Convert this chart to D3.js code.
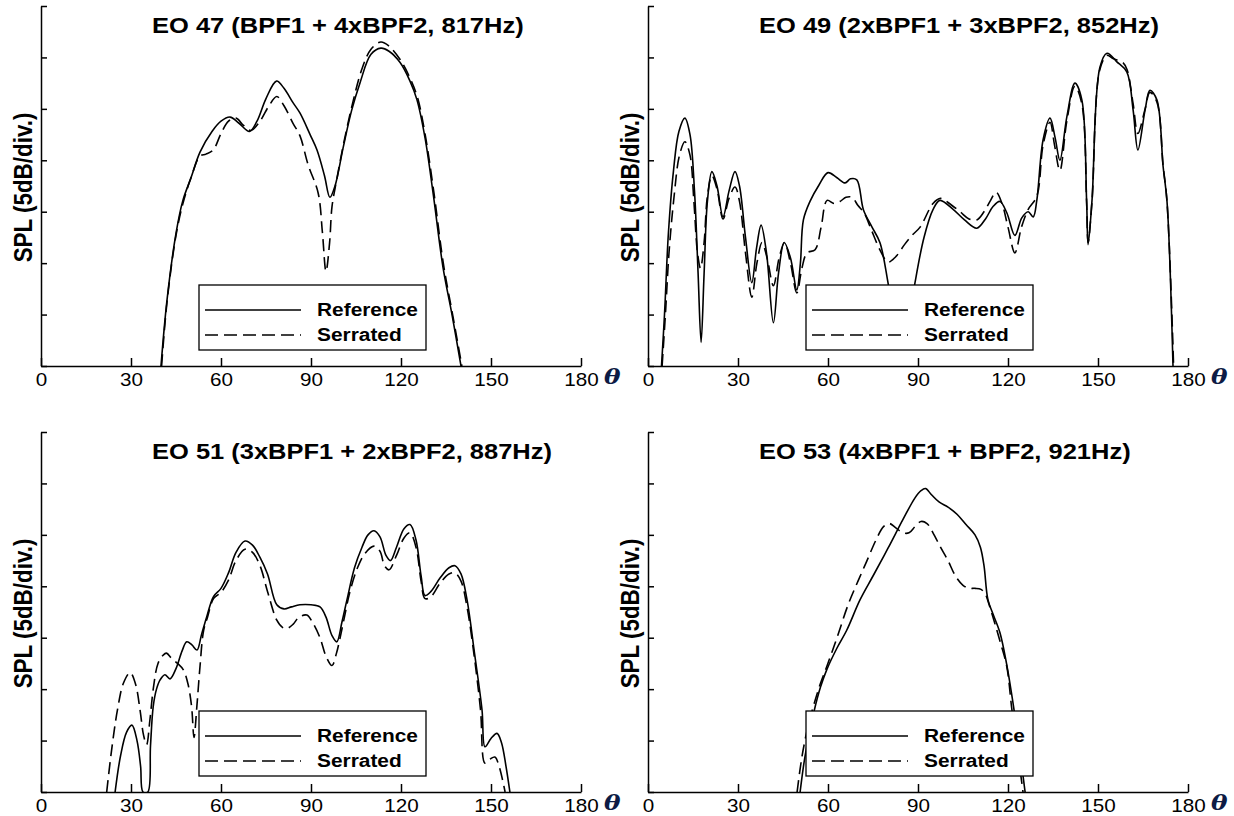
<!DOCTYPE html>
<head>
    <meta charset="utf-8">
    <title>EO directivity</title>
    <style>
        body { margin: 0; background: #fff; }
        svg { display: block; }
    </style>
</head>
<body>
    <script src="https://d3js.org/d3.v7.min.js"></script>
    <script>
        // data: [theta (deg), SPL (dB, 5 dB per division)]
        var thetaTicks = [0, 30, 60, 90, 120, 150, 180];
        var splTicks = [0, 5, 10, 15, 20, 25, 30, 35];
        var titles = [
            "EO 47 (BPF1 + 4xBPF2, 817Hz)",
            "EO 49 (2xBPF1 + 3xBPF2, 852Hz)",
            "EO 51 (3xBPF1 + 2xBPF2, 887Hz)",
            "EO 53 (4xBPF1 + BPF2, 921Hz)"
        ];
        var legendLabels = ["Reference", "Serrated"];

        var eo47Ref = [[40,0],[42,6.4],[45,12.9],[47.3,16.1],[50,18.3],[53,20.8],[57,22.8],[60,23.8],[63,24.2],[66,23.6],[69.5,22.8],
            [72,23.8],[75,26],[78.5,27.7],[81,27],[84,25.6],[86.3,24.6],[89.7,22.5],[92,21],[94.5,18.5],[96.3,16.4],[98,17.5],
            [100.7,21.2],[103.5,24.8],[106.3,27.5],[110,30.3],[113.3,30.9],[116,30.6],[119.7,29.5],[123,27.7],[125.3,25.9],
            [128,22.2],[130.7,16.8],[134,9.6],[137,5],[140,0]];
        var eo47Ser = [[40.2,0],[42,6.2],[45,12.7],[47.3,15.8],[50,18.3],[53,20.4],[55,20.6],[57.4,21],[60,22.6],[62.5,23.8],
            [65,24.1],[67.5,23.4],[70,22.9],[73,23.8],[76,25.3],[78.6,26.2],[81,25.3],[84,23.6],[86.3,22.4],[89,19.6],[92.4,16.8],
            [93.8,13],[95,9.2],[96.2,12],[97,15.5],[98.5,18],[101,21.8],[104,25.7],[107,28.9],[110,30.8],[113.3,31.5],[116,31.1],
            [119.7,29.8],[123,28],[125.5,26.1],[128,22.6],[130.9,17],[134.2,9.8],[137.2,5],[140.3,0]];

        var eo49Ref = [[4.5,0],[5.5,5],[6.8,12.9],[8.5,19],[10.3,22.8],[12.3,24.1],[14,22.5],[15.5,17],[16.7,9],[17.7,2.3],
            [18.7,9],[19.8,16],[21.3,18.9],[23,17.5],[25,14.5],[27,17],[29,18.9],[30.5,17.5],[32.5,12.5],[34.6,8.1],[36.2,11.5],
            [37.7,13.7],[39.5,11],[41.8,4.2],[43.5,9],[45.4,12],[47.5,10.5],[49.6,7.4],[50.8,10],[51.8,14.2],[54,16],[57,17.6],
            [60,18.8],[63,18.3],[65.7,17.8],[67.5,18.2],[69.6,18.1],[71.8,15.2],[74.5,13.6],[77.3,12],[80,8.1],[82,4.5],
            [84.5,3],[87,4.5],[89,8.1],[92,12.5],[95,15.2],[97.3,16.1],[101.8,15.2],[105.5,14.2],[109.6,13.4],[112.5,14.3],
            [115,15.5],[117.3,16],[119.6,14.9],[122.3,12.7],[124.6,14.4],[126.7,15],[128.4,14.5],[129.6,16.1],[131.7,22],
            [134,24.1],[135.7,22.2],[137.3,20],[139.6,24.2],[142.3,27.5],[144.6,25.9],[146.2,16.1],[146.7,11.8],[148,16.1],
            [150.6,29],[153,30.4],[156.2,29.6],[159.6,28.6],[161.7,24.9],[163.3,21],[165.7,24.9],[167.3,26.8],[169.6,25.9],
            [171.7,19.4],[173,16],[175,0]];
        var eo49Ser = [[4.7,0],[5.8,5],[7,11],[8.7,16.5],[10.5,20.5],[12.3,21.8],[14,20.5],[15.3,16],[16.5,11],[17.5,9.5],
            [18.7,12],[19.8,16.5],[21.3,18.5],[23,17.2],[25,14.3],[27,16.3],[29,17.4],[30.5,16],[32.5,11],[34.6,6.7],[36.3,10],
            [38,12],[39.7,10.5],[41.8,7.8],[43.7,10.5],[45.5,12],[47.5,10],[49.6,7.1],[51.3,9.5],[53,11],[55.7,11.3],[57.7,13.5],
            [59.7,16.1],[62,15.8],[64,16],[66,16.4],[68,16.4],[70,15.6],[72,14.9],[74.5,13.2],[77.3,11.3],[80,10.1],[82.5,10.6],
            [85.5,11.8],[88,12.7],[90.7,13.5],[95,15.8],[97.5,16.3],[100,15.9],[104,15],[107,14.3],[109.6,14.2],[112,15],
            [114,16],[116,16.9],[118,15.8],[120,13.5],[122.3,11],[124.5,13.5],[126.7,15.2],[129.6,16.5],[131.7,21.5],[134,23.7],
            [135.5,21.5],[137.3,19],[139.6,23.8],[142.3,27.2],[144.6,25.5],[146.2,16],[146.7,12],[148,16],[150.6,28.8],[153,30.2],
            [155,29.9],[156.7,29.7],[158.3,29.5],[159.7,28.8],[161.7,25.5],[163.3,22.6],[165.7,25],[167.3,26.6],[169.6,25.7],
            [171.7,19.5],[173,16],[175.2,0]];

        var eo51Ref = [[24.7,0],[26.5,3.5],[28.5,5.8],[30.3,6.5],[32,5],[33.2,2.5],[34,0],[35.6,0],[36.5,4.5],[37.4,8.3],
            [38.5,10],[39.7,10.9],[41.3,11.4],[43,11],[45,12],[47,13.7],[48.6,14.6],[50.3,14.3],[52,13.8],[53.5,15.3],[55.2,17],
            [57.5,19],[60,19.8],[62.5,21.3],[65,23.3],[68,24.4],[70.5,24],[73,22.8],[75.5,21.2],[78.6,18.2],[81,17.8],[83.5,18],
            [86.3,18.2],[90,18.2],[93,18],[95,17],[97,15.2],[98.6,14.6],[100.3,16.5],[102,18.7],[104.5,21.8],[107,23.8],[109,25],
            [111,25.4],[113,24.8],[115,23],[116.5,22.5],[118.5,23.8],[121,25.6],[123,26],[125,24.5],[126.7,21],[128,19.1],
            [130,19.5],[133,20.8],[136,21.8],[138,22],[140,21.2],[142,18.7],[144.5,13.5],[147,8],[148,4.4],[150,5.2],[152,5.7],
            [153.5,4.8],[155,2.5],[156.3,0]];
        var eo51Ser = [[21.9,0],[23.5,4],[25.5,8],[27.5,10.6],[29.7,11.6],[31.5,10.5],[33,8],[34.2,5.5],[35.2,4.6],[36.3,7],
            [37.5,10.2],[39,12.5],[40.7,13.3],[41.8,13.5],[43.5,13],[45.5,12.5],[47.4,11.9],[49,10.5],[50.2,8.3],[51,5.3],[52,8.5],
            [53,12.2],[54.2,15.7],[55.5,17],[57.5,18.8],[60,19.4],[62.5,20.6],[65,22.5],[68,23.6],[70.5,23.3],[73,22],[75.5,19.5],
            [78.6,16.7],[80.5,16],[82,15.9],[84,16.3],[86,17],[88.6,17.2],[90.5,16.5],[93,15],[95,13.2],[97,12.3],[98.5,13.5],
            [99.7,15],[101,16.8],[103,19.5],[105.5,21.8],[108,23.2],[111,23.9],[113,23.4],[114.5,22],[116,21.6],[118.5,23],
            [121,24.7],[123,25.2],[125,23.8],[126.7,20.5],[128,18.8],[130,19],[133,20.3],[136,21.2],[138,21.3],[140,20.5],
            [142,18],[144.5,13],[146.5,8],[148,2.8],[149.7,3.2],[151.3,3.4],[152.7,2.5],[154.7,0]];

        var eo53Ref = [[50.7,0],[52.3,3.4],[54,5.9],[55.4,7.9],[57.5,10.2],[59.6,11.9],[63,14],[66.2,15.7],[70.7,18.7],[75,21],
            [80,23.7],[85,26.5],[89,28.6],[91,29.3],[92.5,29.5],[94.5,28.9],[97,28.2],[100,27.7],[103,27],[106,26],[109,25],
            [110.8,23.8],[112,22],[113.3,18.7],[115,17.3],[117.3,15.5],[119.5,12.5],[121.7,8.6],[123.7,4.5],[125.7,0]];
        var eo53Ser = [[49.7,0],[51.3,3.4],[53.2,6.2],[55,8.2],[57.3,10.4],[59.6,12.2],[63,15],[66.7,18.2],[70,20.5],[73,22.5],
            [76,24.5],[78.5,25.8],[80.5,26.1],[82.5,25.7],[85,25.2],[87,25.2],[89,25.8],[91,26.3],[93,26.1],[95,25.2],[97.5,23.8],
            [100,22.5],[102.5,21],[105,20.1],[107,19.8],[109,19.8],[111,19.7],[112.5,19.2],[113.5,18.4],[115.5,16.5],[117.5,14.5],
            [119.6,12.2],[121.3,8],[123.2,4],[125,0]];

        var SX = 1.18; // the figure's text is stretched sideways
        var width = 540, height = 360;
        var panels = [
            { title: titles[0], ref: eo47Ref, ser: eo47Ser, left: 41, top: 6 },
            { title: titles[1], ref: eo49Ref, ser: eo49Ser, left: 648, top: 6 },
            { title: titles[2], ref: eo51Ref, ser: eo51Ser, left: 41, top: 432 },
            { title: titles[3], ref: eo53Ref, ser: eo53Ser, left: 648, top: 432 }
        ];

        var svg = d3.select("body").append("svg")
            .attr("width", 1234)
            .attr("height", 816);

        var x = d3.scaleLinear().domain([0, 180]).range([0, width]);
        var y = d3.scaleLinear().domain([0, 35]).range([height, 0]);

        var line = d3.line()
            .x(function (d) { return x(d[0]); })
            .y(function (d) { return y(d[1]); })
            .curve(d3.curveCatmullRom.alpha(0.5));

        svg.append("defs").append("clipPath")
            .attr("id", "plotclip")
            .append("rect")
            .attr("x", 0).attr("y", 0)
            .attr("width", width).attr("height", height);

        panels.forEach(function (p, i) {
            var g = svg.append("g")
                .attr("transform", "translate(" + p.left + "," + p.top + ")");

            g.append("path")
                .datum(p.ref)
                .attr("clip-path", "url(#plotclip)")
                .attr("fill", "none")
                .attr("stroke", "#000")
                .attr("stroke-width", 1.6)
                .attr("d", line);
            g.append("path")
                .datum(p.ser)
                .attr("clip-path", "url(#plotclip)")
                .attr("fill", "none")
                .attr("stroke", "#000")
                .attr("stroke-width", 1.6)
                .attr("stroke-dasharray", "12,6")
                .attr("d", line);

            // axes
            var xa = g.append("g")
                .attr("transform", "translate(0," + height + ")")
                .call(d3.axisBottom(x).tickValues(thetaTicks).tickSize(-8).tickSizeOuter(0).tickPadding(7.5));
            xa.selectAll("text")
                .attr("transform", "scale(" + SX + ",1)")
                .attr("fill", "#000")
                .style("font-family", "'Liberation Sans', Arial, sans-serif")
                .style("font-size", "17.5px");
            var ya = g.append("g")
                .call(d3.axisLeft(y).tickValues(splTicks).tickSize(-6).tickSizeOuter(0).tickFormat(""));
            g.selectAll(".domain, .tick line")
                .attr("stroke", "#000")
                .attr("stroke-width", 1.5);

            // theta symbol after the last tick
            g.append("text")
                .attr("transform", "translate(" + (width + 23) + "," + (height + 18) + ") scale(" + SX + ",1)")
                .style("font-family", "'DejaVu Serif', 'Liberation Serif', serif")
                .style("font-style", "italic")
                .style("font-weight", "bold")
                .style("font-size", "21px")
                .attr("fill", "#0d1b45")
                .text("θ");

            // title
            g.append("text")
                .attr("transform", "translate(111,27) scale(" + SX + ",1)")
                .style("font-family", "'Liberation Sans', Arial, sans-serif")
                .style("font-weight", "bold")
                .style("font-size", "21.6px")
                .text(p.title);

            // y label
            g.append("text")
                .attr("transform", "translate(-9.5,181.5) scale(" + SX + ",1) rotate(-90)")
                .style("text-anchor", "middle")
                .style("font-family", "'Liberation Sans', Arial, sans-serif")
                .style("font-weight", "bold")
                .style("font-size", "22.4px")
                .text("SPL (5dB/div.)");

            // legend
            var lg = g.append("g")
                .attr("transform", "translate(0," + height + ")");
            lg.append("rect")
                .attr("x", 158).attr("y", -81)
                .attr("width", 227).attr("height", 65)
                .attr("fill", "#fff")
                .attr("stroke", "#000")
                .attr("stroke-width", 1.3);
            legendLabels.forEach(function (lab, k) {
                lg.append("line")
                    .attr("x1", 164).attr("x2", 260)
                    .attr("y1", -56 + k * 25).attr("y2", -56 + k * 25)
                    .attr("stroke", "#000")
                    .attr("stroke-width", 1.3)
                    .attr("stroke-dasharray", k == 1 ? "13,6" : null);
                lg.append("text")
                    .attr("transform", "translate(276," + (-50 + k * 25) + ") scale(" + SX + ",1)")
                    .style("font-family", "'Liberation Sans', Arial, sans-serif")
                    .style("font-weight", "bold")
                    .style("font-size", "17.7px")
                    .text(lab);
            });
        });
    </script>
</body>
